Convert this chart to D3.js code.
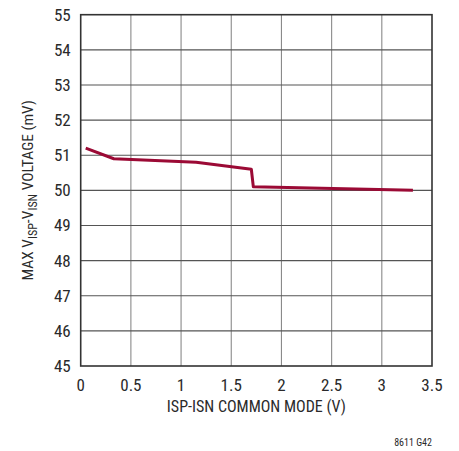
<!DOCTYPE html>
<html>
<head>
<meta charset="utf-8">
<script src="https://cdn.jsdelivr.net/npm/d3@7"></script>
<style>
  body { margin: 0; background: #fff; }
  text { font-family: "Liberation Sans Narrow", "Arial Narrow", "Roboto Condensed", "Liberation Sans", sans-serif; fill: #2a2a2a; }
</style>
</head>
<body>
<div id="chart"></div>
<script>
// curve
var cmVolts = [0.05, 0.33, 1.15, 1.70, 1.72, 3.31];
var maxMilliVolts = [51.2, 50.9, 50.8, 50.6, 50.1, 50.0];
var xTicks = [0, 0.5, 1, 1.5, 2, 2.5, 3, 3.5];
var yTicks = [45, 46, 47, 48, 49, 50, 51, 52, 53, 54, 55];

var w = 459, h = 451;
var m = { left: 80.7, right: 27, top: 14.7, bottom: 85 };

var svg = d3.select("#chart").append("svg")
    .attr("width", w)
    .attr("height", h);

var x = d3.scaleLinear().domain([0, 3.5]).range([m.left, w - m.right]);
var y = d3.scaleLinear().domain([45, 55]).range([h - m.bottom, m.top]);

// grid
svg.append("g")
    .attr("stroke", "#8a8a8a")
    .attr("stroke-width", 1.1)
    .selectAll("line")
    .data(xTicks.slice(1, -1))
    .join("line")
    .attr("x1", d => x(d)).attr("x2", d => x(d))
    .attr("y1", y(45)).attr("y2", y(55));

svg.append("g")
    .attr("stroke", "#555")
    .attr("stroke-width", 1.1)
    .selectAll("line")
    .data(yTicks.slice(1, -1))
    .join("line")
    .attr("x1", x(0)).attr("x2", x(3.5))
    .attr("y1", d => y(d)).attr("y2", d => y(d));

// frame
svg.append("rect")
    .attr("x", x(0)).attr("y", y(55))
    .attr("width", x(3.5) - x(0))
    .attr("height", y(45) - y(55))
    .attr("fill", "none")
    .attr("stroke", "#333")
    .attr("stroke-width", 1.6);

// tick labels
svg.append("g").selectAll("text")
    .data(yTicks)
    .join("text")
    .attr("x", x(0) - 10)
    .attr("y", d => y(d))
    .attr("dy", "0.35em")
    .attr("text-anchor", "end")
    .style("font-size", "17px")
    .text(d => d);

svg.append("g").selectAll("text")
    .data(xTicks)
    .join("text")
    .attr("x", d => x(d))
    .attr("y", y(45) + 25)
    .attr("text-anchor", "middle")
    .style("font-size", "17px")
    .text(d => d);

// axis titles
svg.append("text")
    .attr("x", (x(0) + x(3.5)) / 2)
    .attr("y", y(45) + 46)
    .attr("text-anchor", "middle")
    .style("font-size", "16px")
    .text("ISP-ISN COMMON MODE (V)");

var yt = svg.append("text")
    .attr("transform", "translate(33," + ((y(45) + y(55)) / 2) + ") rotate(-90)")
    .attr("text-anchor", "middle")
    .style("font-size", "15.5px");
yt.append("tspan").text("MAX V");
yt.append("tspan").attr("dy", 4).style("font-size", "12px").text("ISP");
yt.append("tspan").attr("dy", -4).text("-V");
yt.append("tspan").attr("dy", 4).style("font-size", "12px").text("ISN");
yt.append("tspan").attr("dy", -4).text(" VOLTAGE (mV)");

svg.append("text")
    .attr("x", x(3.5))
    .attr("y", 446)
    .attr("text-anchor", "end")
    .style("font-size", "10px")
    .text("8611 G42");

// curve
var line = d3.line()
    .x((d, i) => x(cmVolts[i]))
    .y(d => y(d));

svg.append("path")
    .datum(maxMilliVolts)
    .attr("fill", "none")
    .attr("stroke", "#9b0a35")
    .attr("stroke-width", 3)
    .attr("stroke-linejoin", "round")
    .attr("d", line);
</script>
</body>
</html>
